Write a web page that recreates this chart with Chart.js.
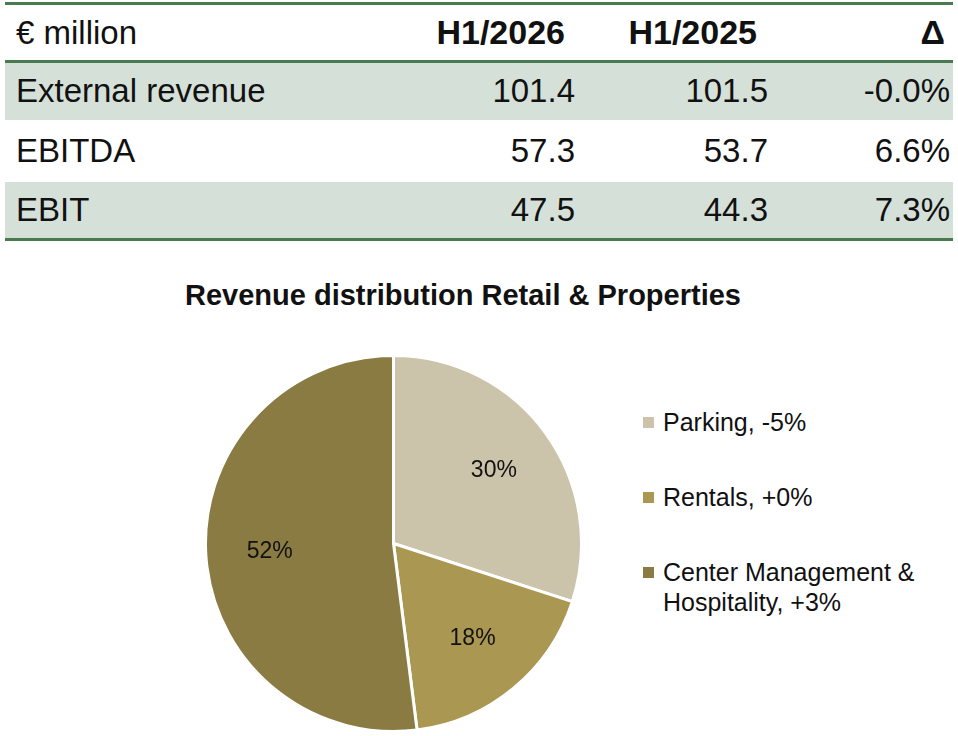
<!DOCTYPE html>
<html>
<head>
<meta charset="utf-8">
<script src="https://cdn.jsdelivr.net/npm/chart.js@4"></script>
<style>
  body { margin: 0; background: #fff; font-family: "Liberation Sans", Arial, sans-serif; color: #111; }
  #page { position: relative; width: 958px; height: 736px; overflow: hidden; }
  table { position: absolute; left: 5px; top: 2px; width: 948px; border-collapse: collapse; table-layout: fixed; font-size: 33px; }
  table td, table th { padding: 0; white-space: nowrap; }
  thead tr { height: 58px; border-top: 3px solid #4a7a50; border-bottom: 3px solid #4a7a50; }
  thead th { font-weight: bold; text-align: right; font-size: 34px; }
  thead th:first-child { font-weight: normal; text-align: left; padding-left: 11px; font-size: 33px; }
  tbody tr { height: 58px; }
  tbody tr:nth-child(2) { height: 62px; }
  tbody tr:nth-child(odd) { background: #d5e0d8; }
  tbody tr:last-child { border-bottom: 3px solid #4a7a50; }
  tbody td { text-align: right; }
  tbody td:first-child { text-align: left; padding-left: 11px; }
  tbody td:last-child { padding-right: 3px; }
  #title { position: absolute; left: 0; width: 926px; top: 279px; text-align: center; font-weight: bold; font-size: 29px; }
  #pie { position: absolute; left: 204px; top: 354px; width: 379px; height: 379px; }
  #legend { position: absolute; left: 643px; top: 407px; font-size: 25px; }
  .item { position: relative; padding-left: 20px; line-height: 30px; margin-bottom: 45px; }
  .box { position: absolute; left: 0; top: 10px; width: 11px; height: 11px; }
</style>
</head>
<body>
<div id="page">
  <table id="tbl">
    <colgroup><col style="width:380px"><col style="width:190px"><col style="width:193px"><col style="width:185px"></colgroup>
    <thead><tr id="head"></tr></thead>
    <tbody id="body"></tbody>
  </table>
  <div id="title">Revenue distribution Retail &amp; Properties</div>
  <div id="pie"><canvas id="pie-chart"></canvas></div>
  <div id="legend"></div>
</div>
<script>
const headers = ["€ million", "H1/2026", "H1/2025", "Δ"];
const rowNames = ["External revenue", "EBITDA", "EBIT"];
const h1_2026 = [101.4, 57.3, 47.5];
const h1_2025 = [101.5, 53.7, 44.3];
const delta = ["-0.0%", "6.6%", "7.3%"];

const segments = [["Parking, -5%"], ["Rentals, +0%"], ["Center Management &", "Hospitality, +3%"]];
const shares = [30, 18, 52];
const colors = ["#cbc3aa", "#a99752", "#8a7b43"];

// table
const headPad = ["", "10px", "11px", "8px"];
const head = document.getElementById("head");
headers.forEach((h, i) => {
    const th = document.createElement("th");
    th.textContent = h;
    if (i > 0) th.style.paddingRight = headPad[i];
    head.appendChild(th);
});
const body = document.getElementById("body");
rowNames.forEach((name, i) => {
    const tr = document.createElement("tr");
    [name, h1_2026[i].toFixed(1), h1_2025[i].toFixed(1), delta[i]].forEach(v => {
        const td = document.createElement("td");
        td.textContent = v;
        tr.appendChild(td);
    });
    body.appendChild(tr);
});

// legend
const legend = document.getElementById("legend");
segments.forEach((lines, i) => {
    const div = document.createElement("div");
    div.className = "item";
    div.innerHTML = '<span class="box" style="background:' + colors[i] + '"></span>' + lines.join("<br>");
    legend.appendChild(div);
});

const sliceLabels = {
    id: "sliceLabels",
    afterDatasetsDraw(chart) {
        const ctx = chart.ctx;
        const meta = chart.getDatasetMeta(0);
        ctx.save();
        ctx.font = "23px 'Liberation Sans', Arial, sans-serif";
        ctx.fillStyle = "#111";
        ctx.textAlign = "center";
        ctx.textBaseline = "middle";
        meta.data.forEach((arc, i) => {
            const mid = (arc.startAngle + arc.endAngle) / 2;
            const r = arc.outerRadius * 0.66;
            ctx.fillText(shares[i] + "%", arc.x + Math.cos(mid) * r, arc.y + Math.sin(mid) * r);
        });
        ctx.restore();
    }
};

new Chart(document.getElementById("pie-chart").getContext("2d"), {
    type: "pie",
    data: {
        labels: segments.map(s => s.join(" ")),
        datasets: [{
            data: shares,
            backgroundColor: colors,
            borderColor: "#fff",
            borderWidth: 3,
            hoverOffset: 0
        }]
    },
    options: {
        responsive: true,
        maintainAspectRatio: false,
        animation: false,
        layout: { padding: 0 },
        plugins: { legend: { display: false }, tooltip: { enabled: false } }
    },
    plugins: [sliceLabels]
});
</script>
</body>
</html>
